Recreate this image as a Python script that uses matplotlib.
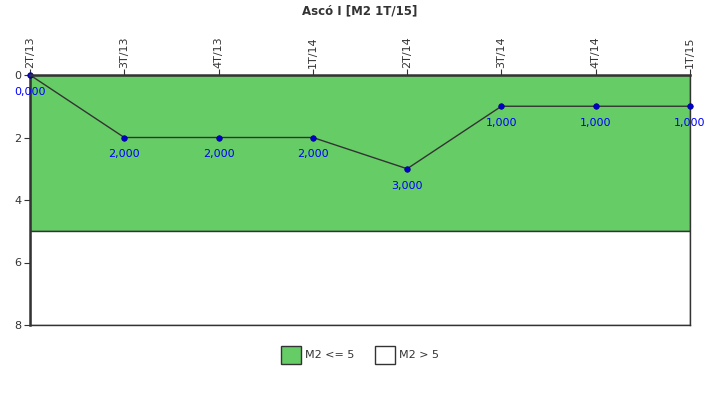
import matplotlib
matplotlib.use("Agg")
import matplotlib.pyplot as plt
from matplotlib.patches import Patch

categories = ["2T/13", "3T/13", "4T/13", "1T/14", "2T/14", "3T/14", "4T/14", "1T/15"]
values = [0, 2, 2, 2, 3, 1, 1, 1]
threshold = 5
ymax = 8
yticks = [0, 2, 4, 6, 8]
title = "Ascó I [M2 1T/15]"
legend_labels = ["M2 <= 5", "M2 > 5"]

green = "#66CC66"
edge = "#333333"

fig = plt.figure(figsize=(7.2, 4.0), dpi=100)
ax = fig.add_axes([30/720, 1 - 325/400, 660/720, 250/400])

x = list(range(len(categories)))
ax.axhspan(0, threshold, facecolor=green, edgecolor=edge, linewidth=1.0, zorder=1)
ax.axhspan(threshold, ymax, facecolor="white", edgecolor=edge, linewidth=1.0, zorder=1)

ax.plot(x, values, color=edge, linewidth=1.0, zorder=3, clip_on=False)
ax.plot(x, values, linestyle="none", marker="o", markersize=4,
        markerfacecolor="#0000CC", markeredgecolor="#000088", markeredgewidth=0.5,
        zorder=4, clip_on=False)
for xi, v in zip(x, values):
    ax.annotate(f"{v:.3f}".replace(".", ","), (xi, v), xytext=(0, -17),
                textcoords="offset pixels", ha="center", va="center",
                fontsize=8, color="#0000FF", zorder=5, annotation_clip=False)

ax.set_xlim(0, len(categories) - 1)
ax.set_ylim(ymax, 0)
ax.xaxis.tick_top()
ax.set_xticks(x)
ax.set_xticklabels(categories, rotation=90, fontsize=8, color="#333333")
ax.set_yticks(yticks)
ax.set_yticklabels([str(t) for t in yticks], fontsize=8, color="#333333")
ax.tick_params(axis="x", length=4, width=0.8, color=edge, pad=1)
ax.tick_params(axis="y", length=4, width=0.8, color=edge, pad=2)

for s in ["top", "left"]:
    ax.spines[s].set_linewidth(1.8)
    ax.spines[s].set_color(edge)
for s in ["bottom", "right"]:
    ax.spines[s].set_linewidth(1.0)
    ax.spines[s].set_color(edge)
ax.spines["top"].set_zorder(6)

fig.text(0.5, 1 - 11/400, title, ha="center", va="center", fontsize=8.5,
         fontweight="bold", color="#333333")

handles = [Patch(facecolor=green, edgecolor=edge, linewidth=1.0),
           Patch(facecolor="white", edgecolor=edge, linewidth=1.0)]
fig.legend(handles, legend_labels, loc="center", bbox_to_anchor=(0.5, 1 - 355/400),
           ncol=2, frameon=False, fontsize=8, handlelength=1.8, handleheight=2.2,
           handletextpad=0.4, columnspacing=1.8, labelcolor="#333333")

fig.savefig("out.png", dpi=100)
